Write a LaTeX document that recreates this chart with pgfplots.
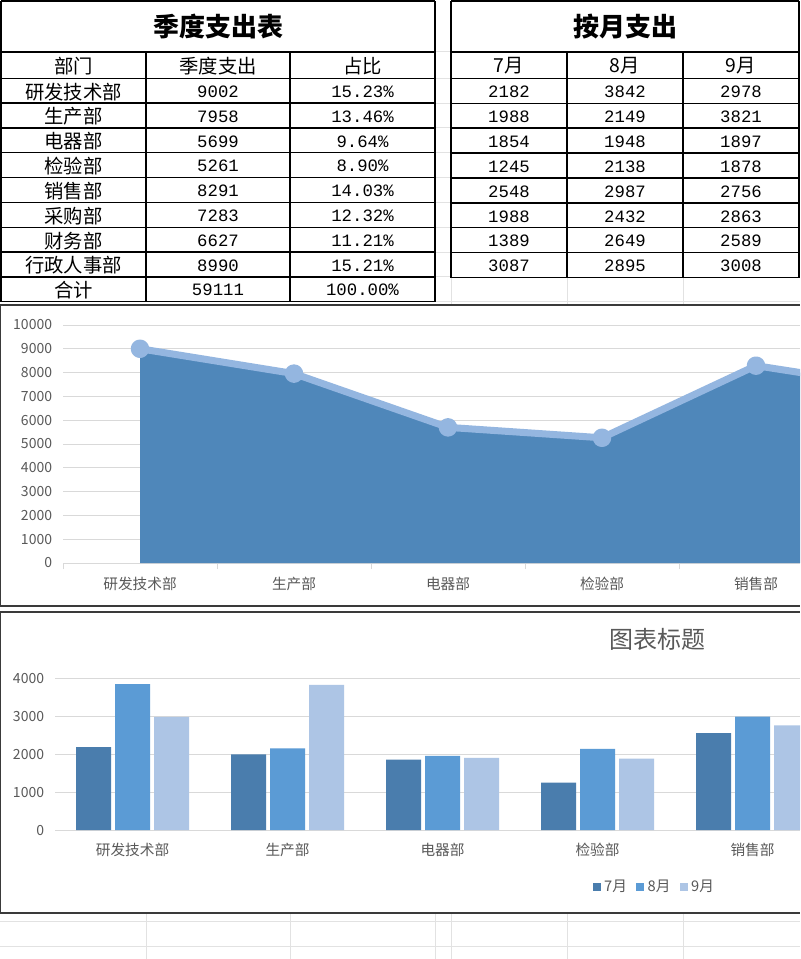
\documentclass[border=0pt]{standalone}
\usepackage{fontspec}
\setmainfont{Noto Sans CJK SC}
\newfontfamily\mono{Liberation Mono}
\usepackage{pgfplots}
\pgfplotsset{compat=1.18}

\definecolor{areafill}{HTML}{4F87BA}
\definecolor{arealine}{HTML}{94B6E0}
\definecolor{bjul}{HTML}{4A7DAD}
\definecolor{baug}{HTML}{5B9BD5}
\definecolor{bsep}{HTML}{ADC5E5}
\definecolor{gridc}{HTML}{D9D9D9}
\definecolor{txt}{HTML}{595959}
\definecolor{sheet}{HTML}{E2E2E2}
\definecolor{frame}{HTML}{3A3A3A}

\newcommand\fs[1]{\fontsize{#1}{#1}\selectfont}

\begin{document}
\begin{tikzpicture}
% page is 800 x 959 px, 1 px = 0.75pt
\path[use as bounding box] (0pt,0pt) rectangle (600pt,-719.25pt);
\clip (0pt,0pt) rectangle (600pt,-719.25pt);
\fill[white] (0pt,0pt) rectangle (600pt,-719.25pt);

\begin{scope}[x=0.75pt, y=-0.75pt]
% spreadsheet grid (light)
\foreach \y in {52,78.3,103.1,127.9,152.8,177.6,202.4,227.2,252,276.9,301.7}
  \draw[sheet, line width=0.75pt] (435,\y) -- (451,\y);
\draw[sheet, line width=0.75pt] (451,301.7) -- (800,301.7);
\foreach \x in {451,567,683}
  \draw[sheet, line width=0.75pt] (\x,277) -- (\x,304);
\foreach \y in {921.7,946.7}
  \draw[sheet, line width=0.75pt] (0,\y) -- (800,\y);
\foreach \x in {146,290,435,451,567,683}
  \draw[sheet, line width=0.75pt] (\x,913) -- (\x,959);

% left table
\begin{scope}[line width=1pt]
\draw (1,1) -- (435,1);
\foreach \i in {0,...,9} \draw (1,78.3+24.82*\i) -- (435,78.3+24.82*\i);
\draw (1,52) -- (435,52);
\draw (1,1) -- (1,301.7);
\draw (435,1) -- (435,301.7);
\draw (146,52) -- (146,301.7);
\draw (290,52) -- (290,301.7);
% right table
\draw (451,1) -- (799,1);
\draw (451,52) -- (799,52);
\foreach \i in {0,...,8} \draw (451,78.3+24.92*\i) -- (799,78.3+24.92*\i);
\draw (451,1) -- (451,277.7);
\draw (799,1) -- (799,277.7);
\draw (567,52) -- (567,277.7);
\draw (683,52) -- (683,277.7);
\end{scope}

\node at (218,27) {\fs{19.5pt}\bfseries 季度支出表};
\node at (625,27) {\fs{19.5pt}\bfseries 按月支出};
\node at (73.5,66) {\fs{14.5pt}部门};
\node at (218,66) {\fs{14.5pt}季度支出};
\node at (362.5,66) {\fs{14.5pt}占比};
\node at (509,66) {\fs{14.5pt}7月};
\node at (625,66) {\fs{14.5pt}8月};
\node at (741,66) {\fs{14.5pt}9月};

\foreach \n/\v/\p [count=\i] in {研发技术部/9002/15.23,生产部/7958/13.46,电器部/5699/9.64,
  检验部/5261/8.90,销售部/8291/14.03,采购部/7283/12.32,财务部/6627/11.21,
  行政人事部/8990/15.21,合计/59111/100.00}{
  \node at (73.5,79.3+24.82*\i-12.41) {\fs{14.5pt}\n};
  \node at (218,79.3+24.82*\i-12.41) {\fs{13pt}\mono \v};
  \node at (362.5,79.3+24.82*\i-12.41) {\fs{13pt}\mono \p\%};
}
\foreach \a/\b/\c [count=\i] in {2182/3842/2978,1988/2149/3821,1854/1948/1897,
  1245/2138/1878,2548/2987/2756,1988/2432/2863,1389/2649/2589,3087/2895/3008}{
  \node at (509,79.3+24.92*\i-12.46) {\fs{13pt}\mono \a};
  \node at (625,79.3+24.92*\i-12.46) {\fs{13pt}\mono \b};
  \node at (741,79.3+24.92*\i-12.46) {\fs{13pt}\mono \c};
}

% chart frames
\draw[frame, line width=1.5pt] (0,305.3) -- (800,305.3);
\draw[frame, line width=1.5pt] (0,606.3) -- (800,606.3);
\draw[frame, line width=1.5pt] (0,612) -- (800,612);
\draw[frame, line width=1.5pt] (0,912.7) -- (800,912.7);
\draw[frame, line width=0.75pt] (0.5,305) -- (0.5,606);
\draw[frame, line width=0.75pt] (0.5,612) -- (0.5,913);

\node[txt] at (657,639) {\fs{18pt}图表标题};
\end{scope}

% area chart
\begin{axis}[
  at={(47.25pt,-422.25pt)}, anchor=south west, scale only axis,
  width=552.75pt, height=178.5pt,
  xmin=-0.5, xmax=4.2857, ymin=0, ymax=10000,
  ytick={0,1000,...,10000},
  xtick={0,...,7},
  xticklabels={研发技术部,生产部,电器部,检验部,销售部,采购部,财务部,行政人事部},
  minor xtick={-0.5,0.5,...,7.5},
  scaled y ticks=false,
  /pgf/number format/1000 sep={},
  /pgf/number format/assume math mode=true,
  axis x line*=bottom, axis y line*=left,
  x axis line style={gridc, line width=0.75pt},
  y axis line style={draw=none},
  major tick length=0pt, minor tick length=4.5pt,
  tick align=outside,
  minor tick style={gridc, line width=0.75pt},
  ymajorgrids, grid style={gridc, line width=0.75pt},
  tick label style={font=\fs{10.5pt}, color=txt},
  yticklabel style={anchor=east, inner sep=0pt, xshift=-8pt},
  xticklabel style={anchor=center, inner sep=0pt, yshift=-15.5pt, font=\fs{11pt}},
]
\addplot[draw=none, fill=areafill] coordinates {
  (0,9002) (1,7958) (2,5699) (3,5261) (4,8291) (5,7283) (6,6627) (7,8990)
} \closedcycle;
\addplot[arealine, line width=5.25pt, line cap=round, line join=round,
  mark=*, mark size=4.3pt, mark options={draw=none, fill=arealine}] coordinates {
  (0,9002) (1,7958) (2,5699) (3,5261) (4,8291) (5,7283) (6,6627) (7,8990)
};
\end{axis}

% bar chart
\begin{axis}[
  at={(41.25pt,-622.5pt)}, anchor=south west, scale only axis,
  width=558.75pt, height=114pt,
  xmin=-0.5, xmax=4.306, ymin=0, ymax=4000,
  ytick={0,1000,...,4000},
  xtick={0,...,7},
  xticklabels={研发技术部,生产部,电器部,检验部,销售部,采购部,财务部,行政人事部},
  ybar=3pt, bar width=26.25pt,
  scaled y ticks=false,
  /pgf/number format/1000 sep={},
  /pgf/number format/assume math mode=true,
  axis x line*=bottom, axis y line*=left,
  x axis line style={gridc, line width=0.75pt},
  y axis line style={draw=none},
  major tick length=0pt,
  ymajorgrids, grid style={gridc, line width=0.75pt},
  tick label style={font=\fs{10.5pt}, color=txt},
  yticklabel style={anchor=east, inner sep=0pt, xshift=-8pt},
  xticklabel style={anchor=center, inner sep=0pt, yshift=-15pt, font=\fs{11pt}},
  legend image code/.code={\fill[#1] (0pt,-3pt) rectangle (6pt,3pt);},
  legend style={at={(0.805,-0.375)}, anchor=center, draw=none, fill=none,
    legend columns=3, font=\fs{11pt}, text=txt,
    /tikz/every even column/.append style={column sep=5pt},
    /tikz/every odd column/.append style={column sep=0.5pt}},
]
\addplot[fill=bjul, draw=none] coordinates {
  (0,2182) (1,1988) (2,1854) (3,1245) (4,2548) (5,1988) (6,1389) (7,3087)};
\addplot[fill=baug, draw=none] coordinates {
  (0,3842) (1,2149) (2,1948) (3,2138) (4,2987) (5,2432) (6,2649) (7,2895)};
\addplot[fill=bsep, draw=none] coordinates {
  (0,2978) (1,3821) (2,1897) (3,1878) (4,2756) (5,2863) (6,2589) (7,3008)};
\legend{7月,8月,9月}
\end{axis}
\end{tikzpicture}
\end{document}
